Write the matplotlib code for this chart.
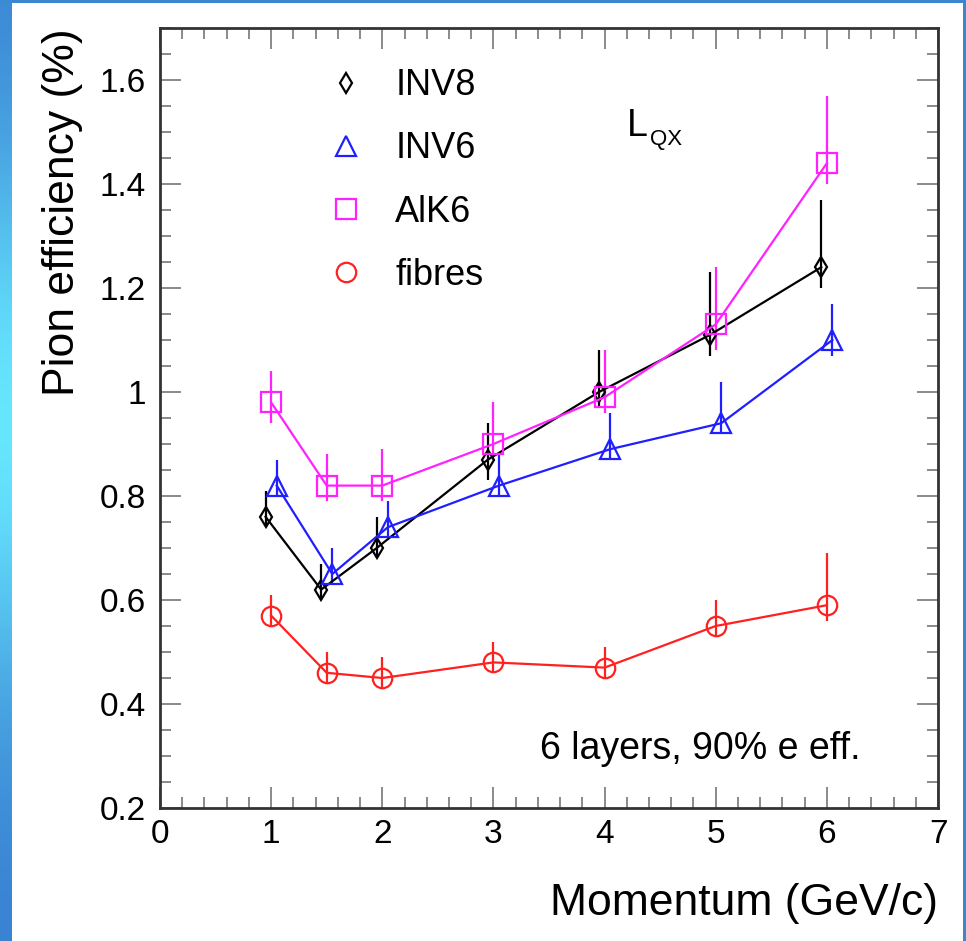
import numpy as np
import matplotlib
matplotlib.use("Agg")
import matplotlib.pyplot as plt
from matplotlib.lines import Line2D
from matplotlib.ticker import MultipleLocator

plt.rcParams['font.family'] = ['Liberation Sans', 'DejaVu Sans']

# momentum points (GeV/c)
p_inv8 = [0.95, 1.45, 1.95, 2.95, 3.95, 4.95, 5.95]
p_inv6 = [1.05, 1.55, 2.05, 3.05, 4.05, 5.05, 6.05]
p_alk6 = [1.0, 1.5, 2.0, 3.0, 4.0, 5.0, 6.0]
p_fib = [1.0, 1.5, 2.0, 3.0, 4.0, 5.0, 6.0]

# pion efficiency (%) with lower / upper errors
eff_inv8 = [0.76, 0.62, 0.70, 0.87, 1.00, 1.11, 1.24]
lo_inv8 = [0.02, 0.02, 0.02, 0.04, 0.03, 0.04, 0.04]
hi_inv8 = [0.05, 0.05, 0.06, 0.07, 0.08, 0.12, 0.13]

eff_inv6 = [0.82, 0.65, 0.74, 0.82, 0.89, 0.94, 1.10]
lo_inv6 = [0.02, 0.02, 0.02, 0.02, 0.02, 0.02, 0.03]
hi_inv6 = [0.05, 0.05, 0.05, 0.06, 0.07, 0.08, 0.07]

eff_alk6 = [0.98, 0.82, 0.82, 0.90, 0.99, 1.13, 1.44]
lo_alk6 = [0.04, 0.03, 0.03, 0.03, 0.03, 0.05, 0.04]
hi_alk6 = [0.06, 0.06, 0.07, 0.08, 0.09, 0.11, 0.13]

eff_fib = [0.57, 0.46, 0.45, 0.48, 0.47, 0.55, 0.59]
lo_fib = [0.02, 0.02, 0.02, 0.02, 0.02, 0.02, 0.03]
hi_fib = [0.04, 0.04, 0.04, 0.04, 0.04, 0.05, 0.10]

fig = plt.figure(figsize=(9.66, 9.41), dpi=100)
fig.patch.set_facecolor('#3a86d0')

# white slide area
bg = fig.add_axes([12/966, 0, 951/966, 938/941])
bg.set_facecolor('white')
bg.set_xticks([])
bg.set_yticks([])
for s in bg.spines.values():
    s.set_visible(False)

# blue gradient strip on the left
strip = fig.add_axes([0, 0, 12/966, 1])
t = np.linspace(0, 1, 256)
grad = np.exp(-((t - 0.45) / 0.3) ** 2)
cols = np.zeros((256, 1, 3))
c_dark = np.array([0.22, 0.50, 0.82])
c_light = np.array([0.40, 0.90, 1.00])
for i in range(256):
    cols[i, 0] = c_dark + (c_light - c_dark) * grad[i]
strip.imshow(cols, aspect='auto')
strip.axis('off')

ax = fig.add_axes([160/966, 1 - 808/941, 778/966, 780/941])

series = [
    (p_inv8, eff_inv8, lo_inv8, hi_inv8, 'black', 'd', 10, 'INV8'),
    (p_inv6, eff_inv6, lo_inv6, hi_inv6, '#1f1fff', '^', 14, 'INV6'),
    (p_alk6, eff_alk6, lo_alk6, hi_alk6, '#ff22ff', 's', 14, 'AlK6'),
    (p_fib, eff_fib, lo_fib, hi_fib, '#ff2020', 'o', 14, 'fibres'),
]

handles = []
for x, y, lo, hi, c, m, ms, lab in series:
    ax.errorbar(x, y, yerr=[lo, hi], color=c, marker=m, ms=ms, mfc='none',
                mec=c, mew=1.6, lw=1.6, elinewidth=1.6, capsize=0)
    handles.append(Line2D([], [], ls='none', marker=m, ms=ms, mfc='none',
                          mec=c, mew=1.6, label=lab))

ax.set_xlim(0, 7)
ax.set_ylim(0.2, 1.7)
ax.xaxis.set_major_locator(MultipleLocator(1))
ax.xaxis.set_minor_locator(MultipleLocator(0.2))
ax.yaxis.set_major_locator(MultipleLocator(0.2))
ax.yaxis.set_minor_locator(MultipleLocator(0.05))
ax.set_yticks([0.2, 0.4, 0.6, 0.8, 1.0, 1.2, 1.4, 1.6])
ax.set_yticklabels(['0.2', '0.4', '0.6', '0.8', '1', '1.2', '1.4', '1.6'])
ax.tick_params(which='both', direction='in', top=True, right=True,
               color='#777777', labelsize=24)
ax.tick_params(which='major', length=15, width=1.2)
ax.tick_params(which='minor', length=8, width=1.2)
ax.tick_params(axis='x', pad=8)
ax.tick_params(axis='y', pad=10)
for s in ax.spines.values():
    s.set_linewidth(2)
    s.set_color('#333333')

ax.set_xlabel('Momentum (GeV/c)', fontsize=32, loc='right', labelpad=24)
ax.set_ylabel('Pion efficiency (%)', fontsize=32, loc='top', labelpad=12)

ax.legend(handles=handles, loc='upper left', bbox_to_anchor=(0.17, 0.99),
          frameon=False, fontsize=26, labelspacing=0.78, handletextpad=0.75,
          handlelength=1.2)

ax.text(0.60, 0.862, 'L', transform=ax.transAxes, fontsize=27)
ax.text(0.630, 0.85, 'QX', transform=ax.transAxes, fontsize=16)
ax.text(0.488, 0.063, '6 layers, 90% e eff.', transform=ax.transAxes,
        fontsize=27)

fig.savefig('out.png', dpi=100, facecolor=fig.get_facecolor())
